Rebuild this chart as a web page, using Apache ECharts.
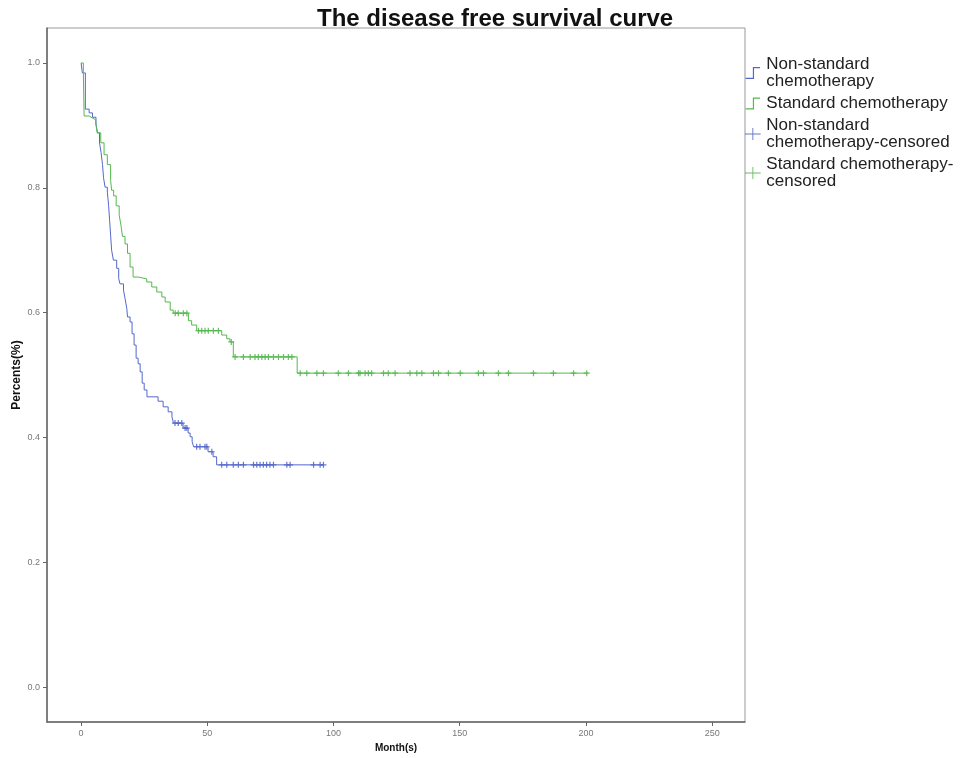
<!DOCTYPE html>
<html>
<head>
<meta charset="utf-8">
<script src="https://cdn.jsdelivr.net/npm/echarts@6/dist/echarts.min.js"></script>
<style>
  html, body { margin: 0; padding: 0; background: #fff; }
  #chart { width: 971px; height: 758px; }
</style>
</head>
<body>
<div id="chart"></div>
<script>
// Kaplan-Meier steps (month, survival after the step)
var nonStdMonths = [0, 0.5, 1.7, 3.2, 4.5, 5.9, 6.5, 7.3, 7.9, 8.5, 8.9, 9.5, 10.4, 10.9, 11.3, 11.7, 12.1, 12.8, 14.1, 14.9, 15.4, 16.8, 17.4, 18.1, 18.4, 19.4, 20.2, 21.0, 21.8, 22.6, 23.4, 24.2, 25.0, 26.1, 30.5, 32.5, 34.5, 36.0, 36.6, 40.4, 42.4, 43.2, 44.0, 44.6, 50.3, 52.3, 53.7, 96.0];
var nonStdSurv = [1.0, 0.984, 0.926, 0.920, 0.913, 0.902, 0.888, 0.872, 0.857, 0.837, 0.816, 0.801, 0.793, 0.772, 0.748, 0.724, 0.700, 0.684, 0.671, 0.655, 0.646, 0.636, 0.623, 0.607, 0.593, 0.585, 0.566, 0.548, 0.527, 0.518, 0.505, 0.487, 0.476, 0.465, 0.458, 0.449, 0.441, 0.433, 0.423, 0.415, 0.407, 0.401, 0.393, 0.385, 0.377, 0.369, 0.356, 0.356];

var stdMonths = [0, 0.9, 1.2, 3.2, 4.4, 5.8, 6.4, 7.8, 9.1, 10.4, 11.7, 12.1, 12.9, 13.9, 15.1, 15.8, 16.4, 17.4, 18.4, 19.4, 20.6, 22.6, 26.0, 28.0, 30.0, 32.0, 33.3, 35.3, 36.5, 42.5, 43.8, 45.8, 55.7, 57.7, 59.0, 60.3, 85.6, 200.9];
var stdSurv = [1.0, 0.986, 0.915, 0.912, 0.909, 0.904, 0.888, 0.872, 0.853, 0.837, 0.812, 0.796, 0.787, 0.771, 0.756, 0.740, 0.722, 0.710, 0.695, 0.673, 0.657, 0.654, 0.649, 0.641, 0.633, 0.625, 0.617, 0.604, 0.599, 0.587, 0.580, 0.571, 0.564, 0.558, 0.553, 0.529, 0.503, 0.503];

// censored times
var nonStdCensored = [37.2, 38.5, 39.9, 41.2, 41.9, 45.8, 47.1, 49.1, 49.8, 51.8, 55.7, 57.7, 60.3, 62.3, 64.3, 68.3, 69.6, 70.9, 72.2, 73.5, 74.8, 76.2, 81.5, 82.8, 92.1, 94.7, 96.0];
var stdCensored = [37.3, 38.5, 40.5, 41.9, 46.5, 47.8, 49.1, 50.4, 52.4, 54.4, 59.5, 61.0, 64.3, 67.0, 68.9, 70.2, 71.6, 72.9, 74.2, 76.2, 78.2, 80.2, 82.1, 83.5, 86.8, 89.4, 93.4, 96.0, 101.9, 105.9, 109.9, 110.5, 112.5, 113.8, 115.1, 119.8, 121.7, 124.4, 130.3, 133.0, 135.0, 139.6, 141.6, 145.5, 150.2, 157.4, 159.4, 165.3, 169.3, 179.2, 187.1, 195.1, 200.3];

var xTicks = [0, 50, 100, 150, 200, 250];
var yTicks = [0, 0.2, 0.4, 0.6, 0.8, 1.0];

var names = ["Non-standard chemotherapy", "Standard chemotherapy", "Non-standard chemotherapy-censored", "Standard chemotherapy-censored"];
var legendText = {
  "Non-standard chemotherapy": "Non-standard\nchemotherapy",
  "Standard chemotherapy": "Standard chemotherapy",
  "Non-standard chemotherapy-censored": "Non-standard\nchemotherapy-censored",
  "Standard chemotherapy-censored": "Standard chemotherapy-\ncensored"
};

var blue = "#5468cc";
var green = "#55b84e";
var stepIcon = "path://M0,9H6V0H12V1H7V10H0Z";
var plusIcon = "path://M8,0H9V6H17V7H9V13H8V7H0V6H8Z";
var plusMark = "path://M2,0H3V2H5V3H3V5H2V3H0V2H2Z";

function pairs(xs, ys) {
  return xs.map(function (x, i) { return [x, ys[i]]; });
}
// value of the step curve at time t
function survAt(xs, ys, t) {
  var v = ys[0];
  for (var i = 0; i < xs.length; i++) {
    if (xs[i] <= t) v = ys[i];
  }
  return v;
}
function censoredPoints(times, xs, ys) {
  return times.map(function (t) { return [t, survAt(xs, ys, t)]; });
}

var chart = echarts.init(document.getElementById("chart"));
chart.setOption({
  animation: false,
  title: {
    text: "The disease free survival curve",
    left: 312,
    top: 2,
    textStyle: { fontFamily: "Liberation Sans, Arial", fontSize: 24, fontWeight: "bold", color: "#111" }
  },
  legend: {
    orient: "vertical",
    left: 745,
    top: 56,
    padding: 0,
    itemGap: 5,
    itemWidth: 17,
    itemHeight: 12,
    data: [
      { name: names[0], icon: stepIcon },
      { name: names[1], icon: stepIcon },
      { name: names[2], icon: plusIcon },
      { name: names[3], icon: plusIcon }
    ],
    formatter: function (n) { return legendText[n]; },
    textStyle: { fontFamily: "Liberation Sans, Arial", fontSize: 17, lineHeight: 17, color: "#222" }
  },
  grid: {
    left: 47, right: 226, top: 28, bottom: 36,
    outerBoundsMode: "none",
    containLabel: false,
    show: true, borderColor: "#999", borderWidth: 1
  },
  xAxis: {
    type: "value",
    min: -13.5,
    max: 263,
    name: "Month(s)",
    nameLocation: "middle",
    nameGap: 21,
    nameTextStyle: { fontFamily: "Liberation Sans, Arial", fontSize: 10, fontWeight: "bold", color: "#111" },
    axisLine: { onZero: false, lineStyle: { color: "#666", width: 1.5 } },
    axisTick: { customValues: xTicks, length: 4, lineStyle: { color: "#666" } },
    axisLabel: { customValues: xTicks, fontSize: 9, color: "#777", margin: 7 },
    splitLine: { show: false }
  },
  yAxis: {
    type: "value",
    min: -0.056,
    max: 1.056,
    name: "Percents(%)",
    nameLocation: "middle",
    nameGap: 24,
    nameMoveOverlap: false,
    nameTextStyle: { fontFamily: "Liberation Sans, Arial", fontSize: 12, fontWeight: "bold", color: "#111" },
    axisLine: { show: true, onZero: false, lineStyle: { color: "#666", width: 1.5 } },
    axisTick: { show: true, customValues: yTicks, length: 4, lineStyle: { color: "#666" } },
    axisLabel: {
      customValues: yTicks, fontSize: 9, color: "#777", margin: 7,
      formatter: function (v) { return v.toFixed(1); }
    },
    splitLine: { show: false }
  },
  series: [
    {
      name: names[0], type: "line", step: "end", showSymbol: false,
      data: pairs(nonStdMonths, nonStdSurv),
      lineStyle: { color: blue, width: 1 }, itemStyle: { color: blue }
    },
    {
      name: names[1], type: "line", step: "end", showSymbol: false,
      data: pairs(stdMonths, stdSurv),
      lineStyle: { color: green, width: 1 }, itemStyle: { color: green }
    },
    {
      name: names[2], type: "scatter", symbol: plusMark, symbolSize: 6,
      data: censoredPoints(nonStdCensored, nonStdMonths, nonStdSurv),
      itemStyle: { color: "#3d55c0" }
    },
    {
      name: names[3], type: "scatter", symbol: plusMark, symbolSize: 6,
      data: censoredPoints(stdCensored, stdMonths, stdSurv),
      itemStyle: { color: "#45ad3e" }
    }
  ]
});
</script>
</body>
</html>
